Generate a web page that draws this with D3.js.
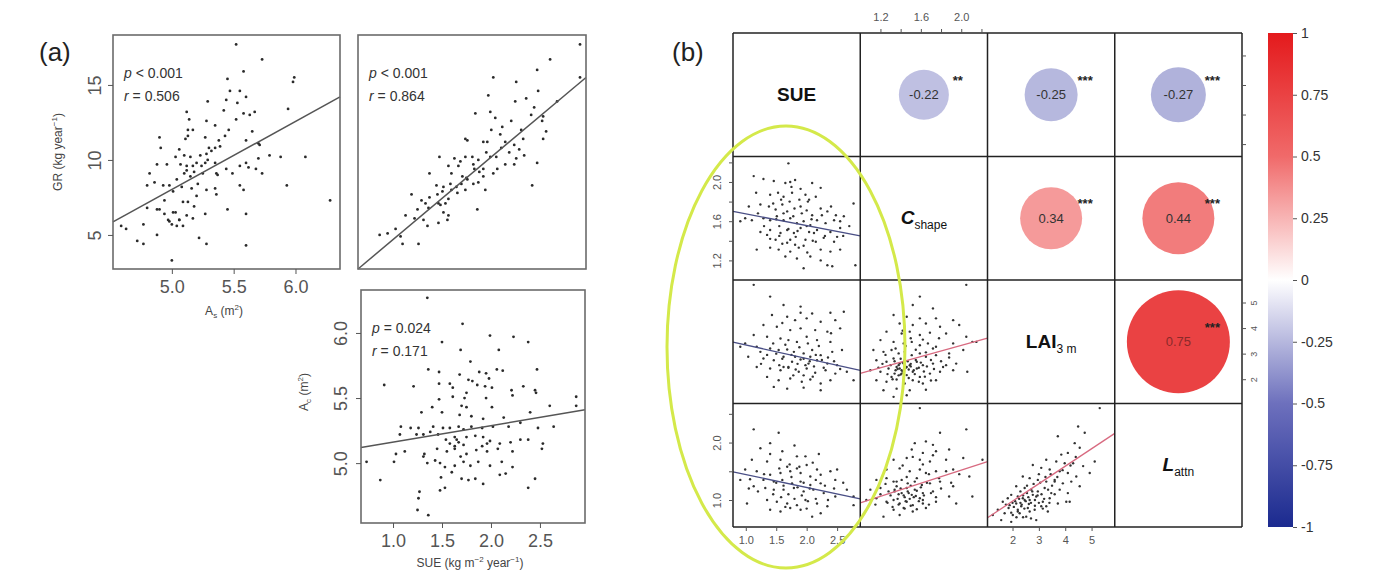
<!DOCTYPE html>
<html>
<head>
<meta charset="utf-8">
<script src="https://cdn.jsdelivr.net/npm/d3@7"></script>
<style>
  body { margin: 0; background: #fff; }
  text { font-family: "Liberation Sans", Arial, sans-serif; }
</style>
</head>
<body>
<svg id="chart" width="1373" height="576"></svg>
<script>
// ---------- panel (a) data ----------
// A_s (m2) vs GR (kg year-1)
var asGr = [[5.52,17.7],[5.73,16.7],[5.58,15.9],[5.45,15.4],[5.99,15.5],[5.98,15.2],[5.47,14.6],[5.44,14.0],[5.53,13.8],[5.60,14.2],[5.55,14.6],[5.29,13.9],[5.42,13.3],[5.58,13.1],[5.63,13.0],[5.67,13.2],[5.12,13.2],[5.14,12.7],[5.13,12.0],[5.17,12.0],[5.28,12.6],[5.65,11.9],[5.94,13.4],[4.90,11.5],[5.11,11.4],[5.13,11.6],[5.27,11.5],[5.38,11.3],[5.43,11.6],[5.60,11.3],[5.70,11.1],[5.71,11.0],[4.91,10.8],[5.06,10.7],[5.03,10.2],[5.10,10.3],[5.15,10.2],[5.23,10.3],[5.28,10.4],[5.32,10.6],[5.30,10.8],[5.35,10.8],[5.39,10.9],[4.88,9.7],[4.96,9.7],[5.07,9.7],[5.12,9.6],[5.17,9.6],[5.20,9.8],[5.24,9.6],[5.27,9.8],[5.29,10.0],[5.35,9.8],[5.44,9.4],[5.55,9.6],[5.60,9.8],[5.70,10.1],[5.79,10.3],[5.88,10.2],[6.08,10.2],[4.82,9.1],[4.86,8.5],[4.80,8.3],[4.93,8.3],[4.98,8.3],[5.04,8.7],[5.10,9.1],[5.15,8.9],[5.12,9.3],[5.18,9.2],[5.25,9.1],[5.21,8.4],[5.36,9.1],[5.37,9.0],[5.49,9.1],[5.62,9.5],[5.68,9.4],[5.73,9.1],[5.93,8.3],[4.94,7.3],[5.01,7.9],[5.08,8.2],[5.09,7.2],[5.16,8.1],[5.20,7.6],[5.28,8.0],[5.35,8.1],[5.36,7.7],[5.55,8.3],[5.58,8.0],[4.80,6.8],[4.88,6.7],[4.94,6.4],[5.01,6.5],[5.03,6.5],[5.06,6.0],[5.12,6.3],[5.17,6.1],[5.27,6.4],[5.45,6.7],[5.60,6.4],[4.59,5.6],[4.63,5.4],[4.72,4.6],[4.77,4.4],[4.88,5.0],[4.97,6.0],[5.00,5.7],[5.04,5.6],[5.22,4.8],[5.28,4.4],[5.60,4.3],[5.00,3.3],[6.28,7.3],[5.13,7.2],[5.18,6.9],[4.90,6.7],[4.98,5.9],[5.09,5.6],[4.77,5.7],[5.06,6.0],[5.52,12.7],[5.35,12.3],[5.46,12.0]];
var asGrFit = [[4.524,5.87],[6.36,14.2]];

// SUE (kg m-2 year-1) vs GR
var sueGr = [[2.90,17.7],[2.60,16.7],[2.47,16.0],[2.03,15.5],[2.26,15.2],[2.48,14.6],[2.67,13.9],[2.90,15.5],[1.98,14.3],[2.25,13.9],[2.36,14.1],[2.44,13.5],[1.85,13.1],[2.00,13.2],[2.05,12.8],[2.21,12.6],[2.41,13.0],[2.52,12.6],[2.31,12.0],[2.56,11.9],[2.53,11.4],[1.75,11.4],[1.77,11.3],[1.93,11.2],[1.97,11.2],[2.01,12.0],[2.10,11.7],[2.15,11.2],[2.24,11.0],[2.33,11.4],[1.49,10.2],[1.64,10.1],[1.75,10.2],[1.82,10.2],[1.88,10.0],[1.96,10.5],[2.00,10.2],[2.06,10.2],[2.11,10.8],[2.19,10.5],[2.26,10.1],[2.34,10.3],[2.47,9.8],[1.39,9.1],[1.58,9.6],[1.68,9.6],[1.72,8.9],[1.76,8.8],[1.84,9.4],[1.89,9.2],[1.93,9.4],[2.03,9.1],[2.07,9.4],[2.15,9.7],[2.24,9.7],[1.46,8.3],[1.53,8.2],[1.60,8.4],[1.66,8.2],[1.71,8.4],[1.77,8.7],[1.83,8.4],[1.88,8.5],[1.95,8.0],[2.42,8.3],[1.21,7.7],[1.31,7.3],[1.39,7.5],[1.47,7.7],[1.52,7.9],[1.58,7.4],[1.67,7.8],[1.75,8.0],[1.87,6.7],[1.27,6.7],[1.38,6.8],[1.50,7.0],[1.55,7.1],[1.53,6.5],[1.58,6.3],[1.15,6.3],[1.24,6.1],[1.33,6.0],[1.48,5.8],[1.57,6.0],[0.97,5.1],[1.05,5.4],[0.89,5.0],[1.10,4.9],[1.12,4.4],[1.28,4.4],[1.37,5.6],[1.61,9.1],[1.70,9.9],[1.93,8.9],[2.29,10.7],[2.53,12.9],[2.12,12.2],[1.83,9.7],[1.48,7.1],[1.35,7.1],[1.61,8.0]];
var sueGrFit = [[0.673,2.73],[2.96,15.5]];

// SUE vs A_c (m2)
var sueAc = [[1.35,6.27],[1.71,6.07],[1.50,5.93],[1.69,5.87],[1.99,5.98],[2.23,5.97],[2.38,5.93],[2.08,5.87],[1.79,5.78],[1.36,5.72],[1.47,5.70],[1.68,5.68],[1.77,5.64],[1.88,5.70],[1.95,5.69],[1.98,5.65],[2.06,5.72],[2.12,5.71],[2.47,5.72],[0.91,5.60],[1.21,5.59],[1.47,5.61],[1.58,5.61],[1.61,5.58],[1.75,5.54],[1.81,5.63],[1.86,5.60],[1.94,5.59],[2.01,5.58],[2.21,5.56],[2.22,5.52],[2.33,5.59],[2.45,5.56],[2.46,5.54],[2.87,5.51],[2.87,5.44],[2.60,5.44],[1.47,5.49],[1.61,5.51],[1.73,5.50],[1.95,5.50],[2.01,5.43],[1.29,5.39],[1.40,5.43],[1.50,5.39],[1.70,5.44],[1.75,5.43],[1.68,5.37],[1.80,5.36],[1.92,5.34],[2.13,5.35],[2.40,5.39],[1.08,5.28],[1.18,5.27],[1.26,5.27],[1.41,5.28],[1.51,5.27],[1.58,5.27],[1.67,5.28],[1.72,5.26],[1.80,5.28],[1.91,5.27],[2.02,5.28],[2.18,5.28],[2.30,5.31],[2.48,5.27],[2.64,5.28],[1.07,5.22],[1.24,5.22],[1.31,5.22],[1.38,5.24],[1.46,5.22],[1.54,5.18],[1.63,5.20],[1.67,5.16],[1.75,5.20],[1.84,5.21],[1.92,5.20],[1.99,5.17],[2.09,5.15],[2.20,5.16],[2.30,5.18],[2.38,5.18],[2.52,5.11],[2.53,5.15],[1.03,5.07],[1.12,5.09],[1.32,5.07],[1.45,5.11],[1.55,5.09],[1.63,5.11],[1.69,5.05],[1.75,5.07],[1.85,5.10],[1.96,5.09],[2.07,5.11],[2.22,5.09],[0.73,5.01],[1.01,5.01],[1.31,5.05],[1.35,5.00],[1.43,5.02],[1.48,5.00],[1.53,4.97],[1.63,4.98],[1.72,5.01],[1.79,4.98],[1.87,5.01],[1.99,4.98],[2.11,5.01],[2.22,4.97],[0.87,4.87],[1.49,4.89],[1.53,4.81],[1.60,4.93],[1.70,4.88],[1.77,4.87],[1.84,4.88],[1.92,4.84],[2.09,4.91],[2.15,4.92],[2.45,4.88],[2.38,4.81],[1.48,4.79],[1.27,4.78],[1.26,4.73],[1.25,4.64],[1.36,4.60],[1.96,5.15],[1.91,5.13],[1.58,5.15],[1.63,5.13],[1.65,5.18],[1.72,5.14]];
var sueAcFit = [[0.673,5.12],[2.96,5.41]];

var asTicks = [5.0, 5.5, 6.0];
var grTicks = [5, 10, 15];
var sueTicks = [1.0, 1.5, 2.0, 2.5];
var acTicks = [5.0, 5.5, 6.0];

// ---------- panel (b) data ----------
var varNames = ["SUE", "C", "LAI", "L"];
var varSubs = ["", "shape", "3 m", "attn"];
var varItalic = [false, true, false, true];

// correlations (row, col, r, stars)
var corrRows = [0, 0, 0, 1, 1, 2];
var corrCols = [1, 2, 3, 2, 3, 3];
var corrValues = [-0.22, -0.25, -0.27, 0.34, 0.44, 0.75];
var corrStars = ["**", "***", "***", "***", "***", "***"];

// scatter cells
var sueCshape = [[1.70,2.19],[1.13,2.06],[1.29,2.03],[1.46,2.01],[1.65,1.99],[1.73,2.00],[1.81,2.02],[1.90,1.93],[2.09,1.99],[2.23,1.94],[1.17,1.89],[1.40,1.87],[1.53,1.89],[1.62,1.85],[1.76,1.89],[1.98,1.87],[2.04,1.82],[2.15,1.85],[1.24,1.77],[1.38,1.75],[1.49,1.72],[1.60,1.77],[1.68,1.70],[1.80,1.73],[1.90,1.75],[2.00,1.71],[2.09,1.66],[2.23,1.73],[2.34,1.70],[2.48,1.66],[2.61,1.65],[0.99,1.63],[1.10,1.61],[1.29,1.63],[1.40,1.61],[1.51,1.65],[1.62,1.61],[1.73,1.63],[1.84,1.58],[1.95,1.60],[2.06,1.56],[2.17,1.61],[2.31,1.58],[2.45,1.61],[2.55,1.60],[1.24,1.49],[1.40,1.51],[1.57,1.48],[1.68,1.51],[1.79,1.48],[1.90,1.53],[2.04,1.49],[2.17,1.51],[2.39,1.49],[2.55,1.53],[1.49,1.41],[1.60,1.37],[1.73,1.41],[1.81,1.36],[1.98,1.41],[2.15,1.39],[2.28,1.43],[2.45,1.39],[1.18,1.31],[1.40,1.33],[1.54,1.31],[1.73,1.29],[1.87,1.33],[2.01,1.28],[2.23,1.31],[2.39,1.29],[2.55,1.31],[1.65,1.24],[1.84,1.22],[2.06,1.24],[2.23,1.20],[2.34,1.15],[1.95,1.12],[2.42,1.14],[2.80,1.15],[2.77,1.78],[0.91,1.60],[2.50,1.44],[1.35,1.46],
  [1.50,1.62],[1.55,1.55],[1.62,1.68],[1.70,1.52],[1.78,1.65],[1.85,1.50],[1.92,1.68],[2.00,1.55],[2.08,1.62],[2.12,1.48],[1.45,1.78],[1.58,1.82],[1.72,1.80],[1.88,1.82],[2.02,1.80],[1.40,1.42],[1.55,1.45],[1.68,1.38],[1.82,1.44],[1.95,1.35],[2.10,1.40],[2.30,1.45],[2.25,1.66],[2.40,1.75],[1.30,1.55],[1.20,1.68],[1.05,1.75],[2.60,1.45],[2.70,1.55],[1.75,1.95]];
var sueCshapeFit = [[0.79,1.70],[2.88,1.45]];

var sueLai = [[1.13,5.69],[1.40,5.23],[1.62,4.90],[1.90,4.84],[2.09,4.57],[2.39,4.60],[2.61,4.64],[1.43,4.51],[1.68,4.44],[1.81,4.31],[2.00,4.38],[2.23,4.25],[2.47,4.31],[1.29,4.12],[1.51,4.05],[1.73,3.92],[1.90,3.99],[2.14,3.92],[2.34,3.86],[2.55,3.99],[1.13,3.73],[1.35,3.66],[1.57,3.59],[1.70,3.53],[1.84,3.46],[2.00,3.66],[2.17,3.53],[2.39,3.46],[0.99,3.40],[1.18,3.27],[1.40,3.20],[1.54,3.14],[1.68,3.16],[1.79,3.07],[1.95,3.01],[2.09,3.14],[2.23,2.94],[2.42,3.07],[2.58,3.14],[1.04,2.88],[1.29,2.81],[1.46,2.74],[1.62,2.88],[1.76,2.68],[1.90,2.77],[2.03,2.61],[2.17,2.74],[2.34,2.61],[2.50,2.55],[1.18,2.48],[1.40,2.42],[1.57,2.35],[1.70,2.48],[1.87,2.29],[2.00,2.42],[2.14,2.25],[2.31,2.35],[2.47,2.22],[2.66,2.29],[1.35,2.09],[1.54,1.96],[1.73,2.03],[1.92,1.90],[2.06,1.99],[2.23,1.83],[2.39,1.96],[1.46,1.70],[1.68,1.63],[1.95,1.67],[2.23,1.57],[1.62,2.48],[1.81,2.88],[2.06,2.88],[1.24,3.07],[0.91,3.27],[2.77,1.96],
  [1.50,3.00],[1.60,2.80],[1.75,2.95],[1.85,2.60],[1.95,2.80],[2.05,2.70],[2.15,2.95],[2.25,2.75],[2.35,2.85],[1.55,2.55],[1.70,2.45],[1.82,2.38],[1.98,2.55],[2.12,2.50],[2.28,2.45],[1.45,3.40],[1.65,3.35],[1.88,3.25],[2.02,3.40],[2.20,3.30],[1.35,2.95],[1.25,2.60],[2.45,2.70],[2.55,2.40],[1.78,2.15],[1.95,2.15],[2.10,2.10],[1.60,4.20],[2.40,3.80],[1.90,4.60]];
var sueLaiFit = [[0.79,3.45],[2.88,2.35]];

var cshapeLai = [[1.59,5.23],[2.05,5.69],[1.52,4.90],[1.72,4.77],[1.33,4.51],[1.46,4.44],[1.59,4.38],[1.75,4.38],[1.92,4.31],[1.39,4.18],[1.52,4.12],[1.65,4.18],[1.79,4.05],[1.98,4.12],[1.26,3.86],[1.41,3.79],[1.49,3.86],[1.59,3.73],[1.69,3.82],[1.85,3.79],[2.05,3.66],[1.20,3.53],[1.33,3.46],[1.43,3.40],[1.51,3.46],[1.59,3.33],[1.67,3.40],[1.75,3.27],[1.92,3.40],[2.15,3.46],[1.13,3.14],[1.23,3.07],[1.31,3.14],[1.38,3.01],[1.44,3.07],[1.51,2.94],[1.59,3.01],[1.65,2.88],[1.75,2.94],[1.88,3.01],[2.02,3.14],[1.16,2.74],[1.26,2.68],[1.33,2.81],[1.39,2.61],[1.44,2.74],[1.49,2.55],[1.56,2.68],[1.62,2.55],[1.72,2.61],[1.82,2.48],[1.95,2.61],[1.10,2.35],[1.20,2.29],[1.28,2.42],[1.34,2.22],[1.41,2.35],[1.46,2.16],[1.52,2.29],[1.59,2.09],[1.69,2.22],[1.79,2.29],[1.92,2.35],[2.06,2.29],[1.16,1.96],[1.26,1.90],[1.36,1.99],[1.44,1.83],[1.52,1.96],[1.62,1.83],[1.75,1.96],[1.23,1.57],[1.36,1.63],[1.49,1.57],[1.65,1.59],[1.33,1.31],[1.46,1.37],[1.39,2.42],[1.43,2.61],[1.36,2.48],[1.46,2.48],[1.41,2.22],[1.31,2.09],[1.56,2.42],[2.11,3.46],[1.38,2.55],[1.42,2.30],[1.48,2.38],[1.35,2.35],[1.50,2.60],[1.44,2.52],[1.40,2.18],
  [1.30,2.55],[1.34,2.70],[1.37,2.40],[1.40,2.80],[1.42,2.65],[1.45,2.45],[1.47,2.70],[1.50,2.50],[1.53,2.35],[1.55,2.75],[1.58,2.45],[1.60,2.65],[1.63,2.30],[1.66,2.50],[1.70,2.75],[1.73,2.40],[1.27,2.20],[1.32,2.00],[1.38,2.15],[1.43,1.95],[1.48,2.05],[1.54,2.20],[1.58,1.90],[1.64,2.10],[1.70,1.95],[1.25,2.95],[1.35,3.20],[1.45,3.30],[1.55,3.15],[1.65,3.05],[1.72,3.20],[1.80,2.70],[1.85,2.55],[1.22,2.60],[1.18,2.45],[1.50,3.60],[1.62,3.55],[1.42,3.90],[1.78,3.60],[1.88,2.85]];
var cshapeLaiFit = [[1.0,2.23],[2.26,3.61]];

var sueLattn = [[1.13,2.23],[1.54,2.17],[1.40,1.99],[1.24,1.90],[1.60,1.85],[1.84,1.76],[1.10,1.70],[1.35,1.67],[1.57,1.70],[1.98,1.76],[1.68,1.58],[1.84,1.55],[2.00,1.61],[2.17,1.53],[2.39,1.50],[2.50,1.53],[0.99,1.53],[1.18,1.50],[1.40,1.44],[1.57,1.47],[1.73,1.50],[1.90,1.47],[2.06,1.41],[2.23,1.44],[0.91,1.35],[1.07,1.36],[1.29,1.35],[1.46,1.32],[1.60,1.35],[1.76,1.29],[1.90,1.32],[2.06,1.26],[2.23,1.29],[2.47,1.35],[2.66,1.18],[1.13,1.24],[1.32,1.21],[1.46,1.18],[1.62,1.18],[1.79,1.21],[1.95,1.15],[2.11,1.18],[2.28,1.12],[2.47,1.06],[2.77,1.06],[1.35,1.00],[1.51,0.97],[1.68,0.94],[1.84,0.91],[1.98,1.00],[2.17,0.94],[2.34,0.89],[1.40,0.83],[1.57,0.80],[1.73,0.86],[1.90,0.83],[2.09,0.71],[2.23,0.77],[1.02,0.94],[2.77,0.91],
  [1.50,1.30],[1.62,1.25],[1.75,1.40],[1.85,1.22],[1.95,1.30],[2.05,1.20],[2.15,1.35],[2.30,1.25],[1.45,1.10],[1.58,1.05],[1.70,1.10],[1.80,1.02],[1.92,1.08],[2.02,0.98],[2.15,1.02],[2.35,1.00],[1.55,1.55],[1.72,1.62],[1.88,1.58],[2.10,1.65],[1.30,1.45],[1.20,1.15],[2.45,1.20],[2.60,1.30],[1.65,0.88],[2.00,0.85],[1.40,1.80],[1.80,1.95],[2.20,1.80],[1.05,1.20]];
var sueLattnFit = [[0.79,1.49],[2.88,1.02]];

var cshapeLattn = [[1.59,2.60],[2.05,2.23],[1.79,2.17],[1.65,2.02],[1.54,1.99],[1.72,1.96],[1.51,1.88],[1.62,1.82],[1.75,1.85],[1.88,1.88],[1.33,1.70],[1.46,1.73],[1.59,1.70],[1.69,1.67],[1.85,1.70],[2.02,1.73],[2.21,1.70],[1.26,1.53],[1.39,1.55],[1.49,1.50],[1.59,1.53],[1.65,1.47],[1.75,1.50],[1.92,1.53],[2.08,1.41],[1.16,1.35],[1.26,1.38],[1.33,1.32],[1.41,1.35],[1.47,1.29],[1.54,1.32],[1.61,1.26],[1.69,1.29],[1.79,1.32],[1.92,1.24],[1.10,1.18],[1.20,1.21],[1.28,1.15],[1.34,1.18],[1.41,1.12],[1.47,1.15],[1.54,1.18],[1.62,1.12],[1.72,1.15],[1.88,1.06],[1.06,1.00],[1.16,1.03],[1.26,0.97],[1.33,1.00],[1.39,0.94],[1.46,0.97],[1.52,0.91],[1.62,0.94],[1.75,0.97],[1.33,0.83],[1.43,0.86],[1.52,0.80],[1.65,0.86],[1.23,0.71],[1.39,0.74],[1.46,1.21],[1.51,1.09],[1.36,1.24],[1.59,1.03],[1.95,0.94],[2.11,1.06],[1.44,1.05],[1.49,1.02],[1.38,1.10],[1.55,1.07],
  [1.30,1.08],[1.34,1.15],[1.37,1.02],[1.40,1.20],[1.43,1.08],[1.45,0.98],[1.48,1.12],[1.50,1.25],[1.53,1.05],[1.56,1.16],[1.58,0.98],[1.60,1.22],[1.63,1.08],[1.66,1.30],[1.70,1.12],[1.27,0.95],[1.32,0.88],[1.38,0.92],[1.44,0.85],[1.50,0.90],[1.56,0.84],[1.62,1.00],[1.68,0.92],[1.75,1.05],[1.80,1.20],[1.25,1.28],[1.36,1.32],[1.46,1.40],[1.56,1.38],[1.68,1.45],[1.78,1.38],[1.85,1.50],[1.20,1.10],[1.15,0.92],[1.42,1.60],[1.62,1.62],[1.52,1.75],[1.72,1.78],[1.98,1.45],[1.90,1.30]];
var cshapeLattnFit = [[1.0,0.95],[2.26,1.67]];

var laiLattn = [[5.31,2.60],[4.49,2.28],[4.74,2.17],[3.72,2.11],[4.36,1.99],[4.55,1.91],[3.85,1.79],[4.10,1.82],[3.28,1.70],[3.66,1.67],[3.98,1.64],[4.30,1.64],[4.68,1.59],[2.77,1.61],[3.09,1.56],[3.41,1.53],[3.79,1.50],[4.10,1.47],[4.42,1.41],[4.93,1.47],[2.39,1.41],[2.65,1.38],[2.96,1.35],[3.28,1.32],[3.60,1.35],[3.91,1.29],[4.23,1.32],[4.55,1.24],[2.14,1.24],[2.46,1.21],[2.71,1.18],[2.96,1.15],[3.22,1.21],[3.47,1.12],[3.79,1.18],[4.10,1.12],[1.95,1.09],[2.20,1.06],[2.39,1.03],[2.65,1.00],[2.90,1.06],[3.15,0.97],[3.41,1.03],[3.72,0.94],[4.04,0.97],[1.63,0.97],[1.89,0.91],[2.14,0.94],[2.33,0.89],[2.58,0.86],[2.84,0.83],[3.09,0.89],[3.34,0.80],[1.44,0.83],[1.70,0.77],[2.01,0.74],[2.27,0.77],[2.52,0.71],[2.90,0.65],[1.25,0.74],[1.57,0.65],[1.95,0.62],[4.17,0.97],[3.60,1.32],[2.46,1.00],[2.20,0.83],[1.82,1.03],[5.12,1.67],[3.28,0.89],[2.77,1.09],[2.30,0.95],[2.55,1.12],[2.05,0.88],[2.62,0.93],
  [2.10,0.98],[2.25,1.02],[2.35,0.92],[2.40,1.08],[2.50,0.98],[2.60,1.05],[2.70,0.95],[2.75,1.15],[2.85,1.00],[2.95,1.08],[2.20,0.80],[2.45,0.85],[2.65,0.80],[2.85,0.90],[3.00,0.95],[3.10,1.10],[3.20,1.02],[3.35,1.18],[3.50,1.25],[3.60,1.10],[2.00,0.95],[1.85,0.86],[1.75,0.92],[2.30,1.15],[2.55,1.25],[2.80,1.28],[3.05,1.30],[3.25,1.40],[3.45,1.45],[3.70,1.40],[3.90,1.52],[4.20,1.60],[4.40,1.75],[3.00,1.45],[2.40,0.70],[2.70,0.68],[2.15,0.70],[1.95,0.78],[3.15,0.85],[3.40,0.95]];
var laiLattnFit = [[1.05,0.69],[5.88,2.16]];

var cellRows = [1, 2, 2, 3, 3, 3];
var cellCols = [0, 0, 1, 0, 1, 2];
var cellPoints = [sueCshape, sueLai, cshapeLai, sueLattn, cshapeLattn, laiLattn];
var cellFits = [sueCshapeFit, sueLaiFit, cshapeLaiFit, sueLattnFit, cshapeLattnFit, laiLattnFit];

var colorTicks = [1, 0.75, 0.5, 0.25, 0, -0.25, -0.5, -0.75, -1];

// ---------- drawing ----------
var svg = d3.select("#chart");

function styleAxis(g, size, fill) {
  g.select(".domain").remove();
  g.selectAll(".tick line").attr("stroke", "#555");
  g.selectAll(".tick text").attr("font-size", size).attr("fill", fill)
    .attr("font-family", '"Liberation Sans", Arial, sans-serif');
}
function rotateLabels(g, offset) {
  g.selectAll(".tick text")
    .attr("transform", "rotate(-90)")
    .attr("x", 0).attr("y", offset).attr("dy", 0)
    .attr("text-anchor", "middle");
}

function scatterPanel(o) {
  var x = d3.scaleLinear().domain(o.xDomain).range([o.x0, o.x1]);
  var y = d3.scaleLinear().domain(o.yDomain).range([o.y1, o.y0]);
  var g = svg.append("g");

  g.selectAll("circle").data(o.points).join("circle")
    .attr("cx", function (d) { return x(d[0]); })
    .attr("cy", function (d) { return y(d[1]); })
    .attr("r", 1.4)
    .attr("fill", "#2a2a2a");

  g.append("line")
    .attr("x1", x(o.fit[0][0])).attr("y1", y(o.fit[0][1]))
    .attr("x2", x(o.fit[1][0])).attr("y2", y(o.fit[1][1]))
    .attr("stroke", "#555").attr("stroke-width", 1.5);

  g.append("rect")
    .attr("x", o.x0).attr("y", o.y0)
    .attr("width", o.x1 - o.x0).attr("height", o.y1 - o.y0)
    .attr("fill", "none").attr("stroke", "#6b6b6b").attr("stroke-width", 1.6);

  if (o.xTicks) {
    var ax = g.append("g").attr("transform", "translate(0," + o.y1 + ")")
      .call(d3.axisBottom(x).tickValues(o.xTicks).tickSize(5).tickPadding(6).tickFormat(d3.format(".1f")));
    styleAxis(ax, 18, "#555");
  }
  if (o.yTicks) {
    var ay = g.append("g").attr("transform", "translate(" + o.x0 + ",0)")
      .call(d3.axisLeft(y).tickValues(o.yTicks).tickSize(5).tickFormat(o.yFormat));
    styleAxis(ay, 18, "#555");
    rotateLabels(ay, o.yLabelOffset);
  }

  var st = g.append("text").attr("x", o.x0 + 11).attr("y", o.y0 + 43)
    .attr("font-size", 14).attr("fill", "#333");
  st.append("tspan").attr("font-style", "italic").text("p");
  st.append("tspan").text(o.pText);
  var rt = g.append("text").attr("x", o.x0 + 11).attr("y", o.y0 + 66)
    .attr("font-size", 14).attr("fill", "#333");
  rt.append("tspan").attr("font-style", "italic").text("r");
  rt.append("tspan").text(o.rText);
}

scatterPanel({ x0: 113, x1: 340, y0: 35, y1: 269, xDomain: [4.524, 6.36], yDomain: [2.73, 18.33],
  points: asGr, fit: asGrFit, xTicks: asTicks, yTicks: grTicks, yFormat: d3.format("d"), yLabelOffset: -12,
  pText: " < 0.001", rText: " = 0.506" });
scatterPanel({ x0: 358, x1: 586, y0: 35, y1: 269, xDomain: [0.673, 2.96], yDomain: [2.73, 18.33],
  points: sueGr, fit: sueGrFit, pText: " < 0.001", rText: " = 0.864" });
scatterPanel({ x0: 361, x1: 585, y0: 290, y1: 523, xDomain: [0.673, 2.96], yDomain: [4.54, 6.33],
  points: sueAc, fit: sueAcFit, xTicks: sueTicks, yTicks: acTicks, yFormat: d3.format(".1f"), yLabelOffset: -14,
  pText: " = 0.024", rText: " = 0.171" });

// axis titles for panel (a)
function axisTitle(x, y, rotate, parts) {
  var t = svg.append("text").attr("font-size", 12).attr("fill", "#444").attr("text-anchor", "middle")
    .attr("transform", "translate(" + x + "," + y + ")" + (rotate ? " rotate(-90)" : ""));
  parts.forEach(function (p) {
    var s = t.append("tspan").text(p[0]);
    if (p[1] === "sup") s.attr("font-size", 8).attr("dy", -5);
    if (p[1] === "sub") s.attr("font-size", 8).attr("dy", 3);
    if (p[1] === "back") s.attr("dy", 5);
    if (p[1] === "up") s.attr("dy", -3);
  });
}
axisTitle(62, 152, true, [["GR (kg year"], ["\u22121", "sup"], [")", "back"]]);
axisTitle(224, 315, false, [["A"], ["s", "sub"], [" (m", "up"], ["2", "sup"], [")", "back"]]);
axisTitle(308, 392, true, [["A"], ["c", "sub"], [" (m", "up"], ["2", "sup"], [")", "back"]]);
axisTitle(470, 567, false, [["SUE (kg m"], ["\u22122", "sup"], [" year", "back"], ["\u22121", "sup"], [")", "back"]]);

svg.append("text").attr("x", 39).attr("y", 61).attr("font-size", 26).attr("fill", "#222").text("(a)");
svg.append("text").attr("x", 672).attr("y", 61).attr("font-size", 26).attr("fill", "#222").text("(b)");

// ---------- panel (b): correlation matrix ----------
var varDomains = [[0.79, 2.88], [1.0, 2.26], [1.05, 5.88], [0.53, 2.68]];
var gx = d3.scaleLinear().domain([0, 4]).range([733, 1242]);
var gy = d3.scaleLinear().domain([0, 4]).range([33, 527]);
function cellX(col) { return d3.scaleLinear().domain(varDomains[col]).range([gx(col), gx(col + 1)]); }
function cellY(row) { return d3.scaleLinear().domain(varDomains[row]).range([gy(row + 1), gy(row)]); }

var corrColor = d3.scaleLinear().domain([-1, -0.5, 0, 0.5, 1])
  .range(["#1b2a8f", "#6d70bd", "#ffffff", "#f06a6a", "#e41a1c"]);
var corrRadius = d3.scaleLinear().domain([0, 1]).range([14, 64]);

var pb = svg.append("g");

// scatter cells
cellPoints.forEach(function (pts, k) {
  var x = cellX(cellCols[k]), y = cellY(cellRows[k]);
  var fit = cellFits[k];
  var neg = fit[1][1] < fit[0][1];
  pb.append("g").selectAll("circle").data(pts).join("circle")
    .attr("cx", function (d) { return x(d[0]); })
    .attr("cy", function (d) { return y(d[1]); })
    .attr("r", 1.2).attr("fill", "#333");
  pb.append("line")
    .attr("x1", x(fit[0][0])).attr("y1", y(fit[0][1]))
    .attr("x2", x(fit[1][0])).attr("y2", y(fit[1][1]))
    .attr("stroke", neg ? "#4a4f86" : "#d86a80").attr("stroke-width", 1.3);
});

// correlation circles
corrValues.forEach(function (r, k) {
  var cx = (gx(corrCols[k]) + gx(corrCols[k] + 1)) / 2;
  var cy = (gy(corrRows[k]) + gy(corrRows[k] + 1)) / 2;
  pb.append("circle").attr("cx", cx).attr("cy", cy)
    .attr("r", corrRadius(Math.abs(r))).attr("fill", corrColor(r));
  pb.append("text").attr("x", cx).attr("y", cy).attr("dy", "0.35em")
    .attr("text-anchor", "middle").attr("font-size", 13)
    .attr("fill", r > 0.6 ? "#8a2a2a" : "#333").text(r.toFixed(2));
  pb.append("text").attr("x", cx + 34).attr("y", cy - 10)
    .attr("text-anchor", "middle").attr("font-size", 13).attr("font-weight", "bold")
    .attr("fill", "#222").text(corrStars[k]);
});

// diagonal labels
varNames.forEach(function (name, i) {
  var cx = (gx(i) + gx(i + 1)) / 2, cy = (gy(i) + gy(i + 1)) / 2;
  var t = pb.append("text").attr("x", cx).attr("y", cy + 6)
    .attr("text-anchor", "middle").attr("fill", "#111");
  t.append("tspan").attr("font-size", 19).attr("font-weight", "bold")
    .attr("font-style", varItalic[i] ? "italic" : "normal").text(name);
  if (varSubs[i]) {
    t.append("tspan").attr("font-size", 12).attr("dy", 5).text(varSubs[i]);
  }
});

// grid
d3.range(5).forEach(function (i) {
  pb.append("line").attr("x1", gx(i)).attr("x2", gx(i)).attr("y1", gy(0)).attr("y2", gy(4))
    .attr("stroke", "#222").attr("stroke-width", 1.5);
  pb.append("line").attr("x1", gx(0)).attr("x2", gx(4)).attr("y1", gy(i)).attr("y2", gy(i))
    .attr("stroke", "#222").attr("stroke-width", 1.5);
});

// panel (b) axes
var cTicks = [1.2, 1.4, 1.6, 1.8, 2.0, 2.2];
var cLabels = [1.2, 1.6, 2.0];
function cFmt(d) { return cLabels.some(function (v) { return Math.abs(v - d) < 1e-6; }) ? d3.format(".1f")(d) : ""; }
var lattnTicks = [1.0, 1.5, 2.0, 2.5];
var lattnLabels = [1.0, 2.0];
var laiTicks = [2, 3, 4, 5];

var axTop = pb.append("g").attr("transform", "translate(0," + gy(0) + ")")
  .call(d3.axisTop(cellX(1)).tickValues(cTicks).tickSize(4).tickPadding(8).tickFormat(cFmt));
styleAxis(axTop, 11, "#555");

var axL1 = pb.append("g").attr("transform", "translate(" + gx(0) + ",0)")
  .call(d3.axisLeft(cellY(1)).tickValues(cTicks).tickSize(4).tickFormat(cFmt));
styleAxis(axL1, 11, "#555"); rotateLabels(axL1, -12);

var axL3 = pb.append("g").attr("transform", "translate(" + gx(0) + ",0)")
  .call(d3.axisLeft(cellY(3)).tickValues(lattnTicks).tickSize(4)
    .tickFormat(function (d) { return lattnLabels.indexOf(d) >= 0 ? d3.format(".1f")(d) : ""; }));
styleAxis(axL3, 11, "#555"); rotateLabels(axL3, -12);

var axB0 = pb.append("g").attr("transform", "translate(0," + gy(4) + ")")
  .call(d3.axisBottom(cellX(0)).tickValues(sueTicks).tickSize(4).tickPadding(5).tickFormat(d3.format(".1f")));
styleAxis(axB0, 11, "#555");

var axB2 = pb.append("g").attr("transform", "translate(0," + gy(4) + ")")
  .call(d3.axisBottom(cellX(2)).tickValues(laiTicks).tickSize(4).tickPadding(5).tickFormat(d3.format("d")));
styleAxis(axB2, 11, "#555");

var axR0 = pb.append("g").attr("transform", "translate(" + gx(4) + ",0)")
  .call(d3.axisRight(cellY(0)).tickValues(sueTicks).tickSize(4).tickFormat(""));
styleAxis(axR0, 9, "#555");

var axR2 = pb.append("g").attr("transform", "translate(" + gx(4) + ",0)")
  .call(d3.axisRight(cellY(2)).tickValues(laiTicks).tickSize(4).tickFormat(d3.format("d")));
styleAxis(axR2, 9, "#555"); rotateLabels(axR2, 15);

// colour bar
var cb = d3.scaleLinear().domain([-1, 1]).range([527, 33]);
var grad = svg.append("defs").append("linearGradient").attr("id", "cbar")
  .attr("x1", 0).attr("y1", 1).attr("x2", 0).attr("y2", 0);
d3.range(0, 21).forEach(function (i) {
  var v = -1 + i * 0.1;
  grad.append("stop").attr("offset", (i / 20 * 100) + "%").attr("stop-color", corrColor(v));
});
svg.append("rect").attr("x", 1268).attr("y", cb(1)).attr("width", 25).attr("height", cb(-1) - cb(1))
  .attr("fill", "url(#cbar)");
var axCb = svg.append("g").attr("transform", "translate(1293,0)")
  .call(d3.axisRight(cb).tickValues(colorTicks).tickSize(4).tickPadding(4).tickFormat(function (d) { return String(d); }));
styleAxis(axCb, 14, "#333");

// highlight ellipse
svg.append("ellipse").attr("cx", 786).attr("cy", 347).attr("rx", 119).attr("ry", 221)
  .attr("fill", "none").attr("stroke", "#d4e94a").attr("stroke-width", 3);
</script>
</body>
</html>
